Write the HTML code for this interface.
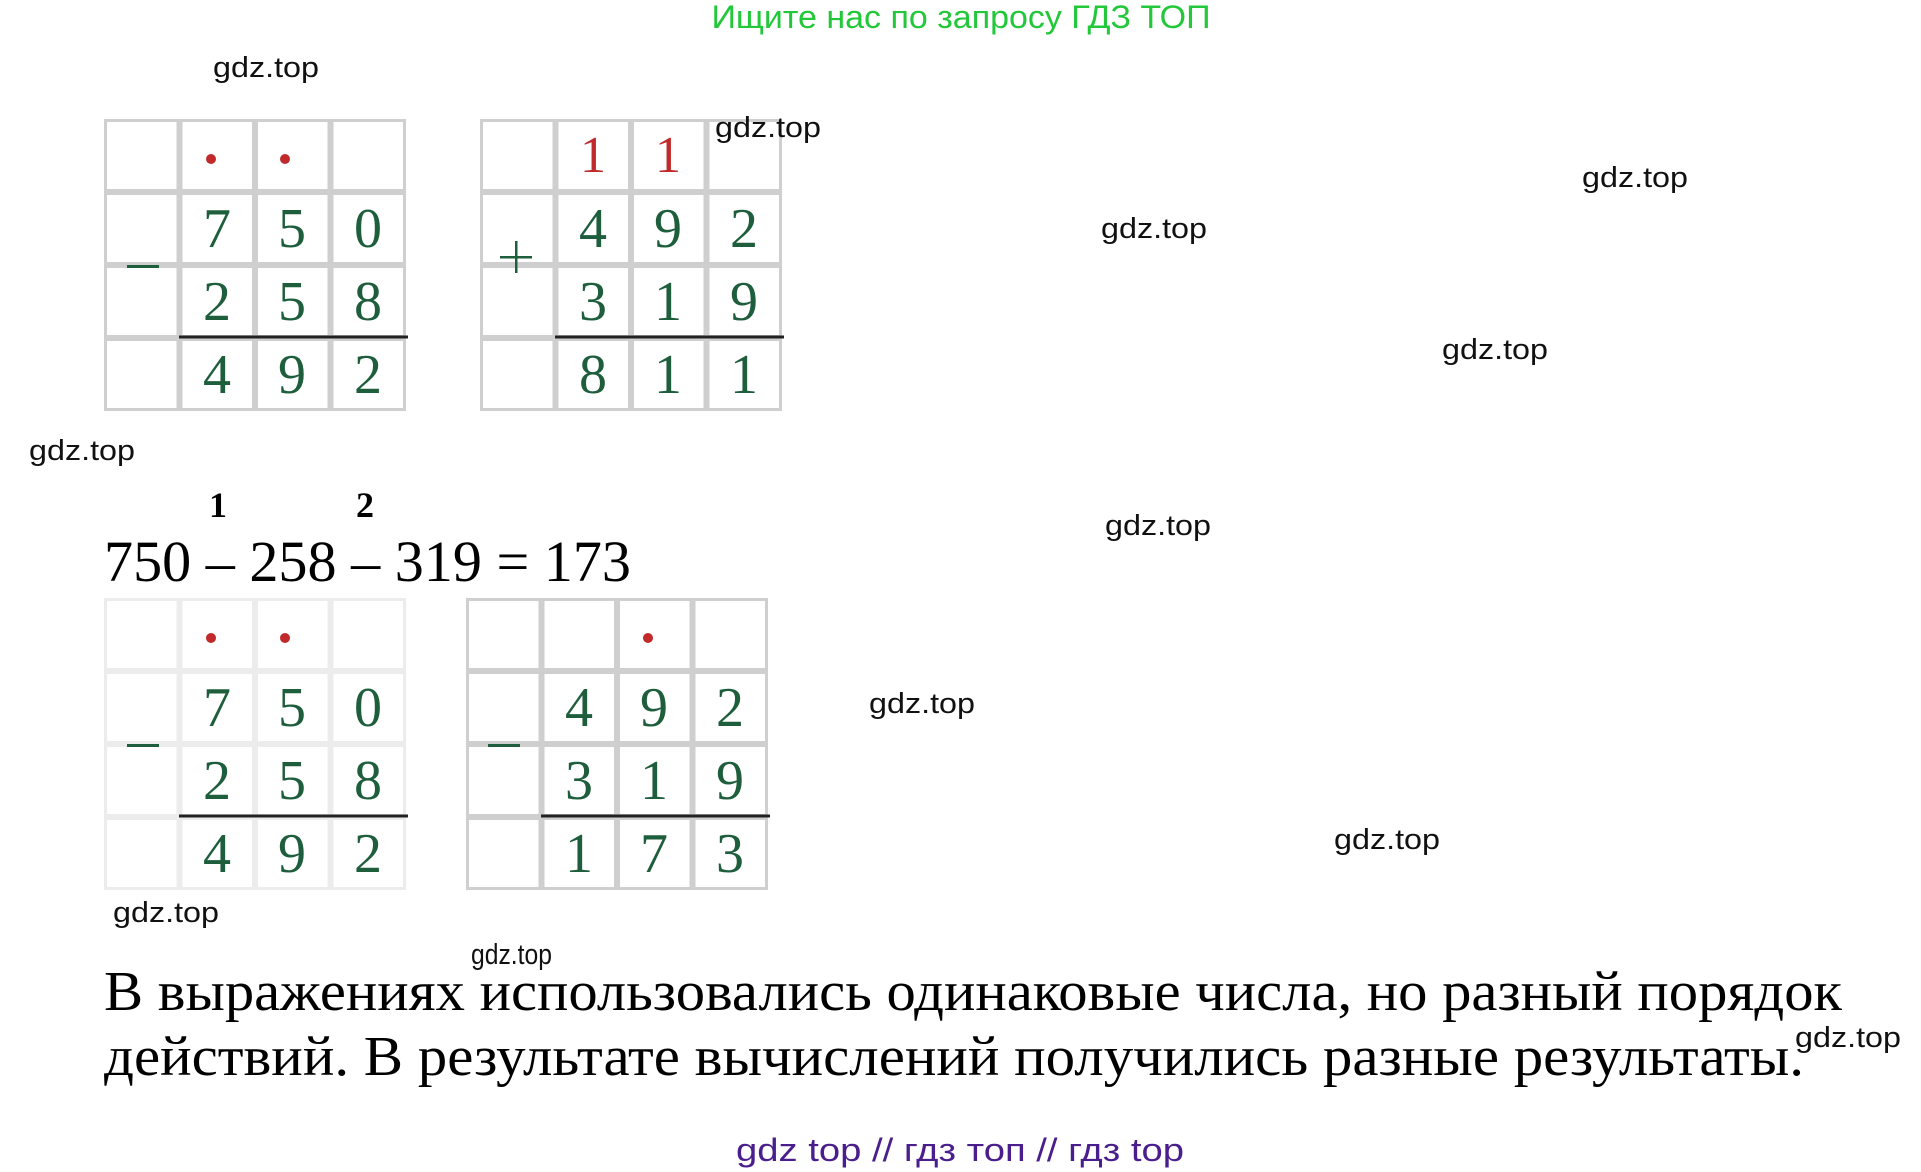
<!DOCTYPE html>
<html><head><meta charset="utf-8"><style>
html,body{margin:0;padding:0;background:#fff;}
svg{display:block;}
.g{font-family:"Liberation Sans",sans-serif;font-size:29px;fill:#111;}
.d{font-family:"Liberation Serif",serif;font-size:56px;fill:#1e5e3c;text-anchor:middle;}
.r{font-family:"Liberation Serif",serif;font-size:52px;fill:#c02a2a;text-anchor:middle;}
.s{font-family:"Liberation Serif","Noto Serif CJK SC",serif;font-size:56px;fill:#000;}
</style></head><body>
<svg width="1921" height="1172" viewBox="0 0 1921 1172" xmlns="http://www.w3.org/2000/svg">
<defs>
<pattern id="cell" x="0" y="0" width="75.5" height="73" patternUnits="userSpaceOnUse">
<rect x="1.5" y="1.5" width="72.5" height="70" fill="#fff" stroke="#cfcfcf" stroke-width="3"/>
</pattern>
<pattern id="cellL" x="0" y="0" width="75.5" height="73" patternUnits="userSpaceOnUse">
<rect x="1.5" y="1.5" width="72.5" height="70" fill="#fff" stroke="#ececec" stroke-width="3"/>
</pattern>
</defs>

<text x="961" y="28" text-anchor="middle" font-family="Liberation Sans, Noto Sans CJK SC, sans-serif" font-size="32" fill="#22c83a" textLength="499" lengthAdjust="spacingAndGlyphs">Ищите нас по запросу ГДЗ ТОП</text>

<!-- Grid 1 -->
<g transform="translate(104,119)">
<rect x="0" y="0" width="302" height="292" fill="url(#cell)"/>
<circle cx="107" cy="40" r="5" fill="#c02a2a"/><circle cx="181" cy="40" r="5" fill="#c02a2a"/>
<text class="d" x="113" y="128">7</text><text class="d" x="188" y="128">5</text><text class="d" x="264" y="128">0</text>
<text class="d" x="113" y="201">2</text><text class="d" x="188" y="201">5</text><text class="d" x="264" y="201">8</text>
<text class="d" x="113" y="274">4</text><text class="d" x="188" y="274">9</text><text class="d" x="264" y="274">2</text>
<line x1="75" y1="218" x2="304" y2="218" stroke="#222" stroke-width="3"/>
<rect x="23" y="146" width="32" height="3" fill="#1e5e3c"/>
</g>

<!-- Grid 2 -->
<g transform="translate(480,119)">
<rect x="0" y="0" width="302" height="292" fill="url(#cell)"/>
<text class="r" x="113" y="53">1</text><text class="r" x="188" y="53">1</text>
<text class="d" x="113" y="128">4</text><text class="d" x="188" y="128">9</text><text class="d" x="264" y="128">2</text>
<text class="d" x="113" y="201">3</text><text class="d" x="188" y="201">1</text><text class="d" x="264" y="201">9</text>
<text class="d" x="113" y="274">8</text><text class="d" x="188" y="274">1</text><text class="d" x="264" y="274">1</text>
<line x1="75" y1="218" x2="304" y2="218" stroke="#222" stroke-width="3"/>
<rect x="20" y="137" width="32" height="2.5" fill="#1e5e3c"/><rect x="35" y="122" width="2.5" height="32" fill="#1e5e3c"/>
</g>

<text class="g" x="213" y="77" textLength="106" lengthAdjust="spacingAndGlyphs">gdz.top</text>
<text class="g" x="715" y="137" textLength="106" lengthAdjust="spacingAndGlyphs">gdz.top</text>
<text class="g" x="1582" y="187" textLength="106" lengthAdjust="spacingAndGlyphs">gdz.top</text>
<text class="g" x="1101" y="238" textLength="106" lengthAdjust="spacingAndGlyphs">gdz.top</text>
<text class="g" x="1442" y="359" textLength="106" lengthAdjust="spacingAndGlyphs">gdz.top</text>
<text class="g" x="29" y="460" textLength="106" lengthAdjust="spacingAndGlyphs">gdz.top</text>
<text class="g" x="1105" y="535" textLength="106" lengthAdjust="spacingAndGlyphs">gdz.top</text>
<text class="g" x="869" y="713" textLength="106" lengthAdjust="spacingAndGlyphs">gdz.top</text>
<text class="g" x="1334" y="849" textLength="106" lengthAdjust="spacingAndGlyphs">gdz.top</text>
<text class="g" x="113" y="922" textLength="106" lengthAdjust="spacingAndGlyphs">gdz.top</text>
<text class="g" x="1795" y="1047" textLength="106" lengthAdjust="spacingAndGlyphs">gdz.top</text>
<text class="g" x="471" y="964" font-size="22" textLength="81" lengthAdjust="spacingAndGlyphs">gdz.top</text>

<text x="218" y="517" text-anchor="middle" font-family="Liberation Serif, serif" font-weight="bold" font-size="36">1</text>
<text x="365" y="517" text-anchor="middle" font-family="Liberation Serif, serif" font-weight="bold" font-size="36">2</text>
<text x="104" y="581" font-family="Liberation Serif, serif" font-size="58" textLength="527" lengthAdjust="spacingAndGlyphs">750 – 258 – 319 = 173</text>

<!-- Grid 3 -->
<g transform="translate(104,598)">
<rect x="0" y="0" width="302" height="292" fill="url(#cellL)"/>
<circle cx="107" cy="40" r="5" fill="#c02a2a"/><circle cx="181" cy="40" r="5" fill="#c02a2a"/>
<text class="d" x="113" y="128">7</text><text class="d" x="188" y="128">5</text><text class="d" x="264" y="128">0</text>
<text class="d" x="113" y="201">2</text><text class="d" x="188" y="201">5</text><text class="d" x="264" y="201">8</text>
<text class="d" x="113" y="274">4</text><text class="d" x="188" y="274">9</text><text class="d" x="264" y="274">2</text>
<line x1="75" y1="218" x2="304" y2="218" stroke="#222" stroke-width="3"/>
<rect x="23" y="146" width="32" height="3" fill="#1e5e3c"/>
</g>

<!-- Grid 4 -->
<g transform="translate(466,598)">
<rect x="0" y="0" width="302" height="292" fill="url(#cell)"/>
<circle cx="182" cy="40" r="5" fill="#c02a2a"/>
<text class="d" x="113" y="128">4</text><text class="d" x="188" y="128">9</text><text class="d" x="264" y="128">2</text>
<text class="d" x="113" y="201">3</text><text class="d" x="188" y="201">1</text><text class="d" x="264" y="201">9</text>
<text class="d" x="113" y="274">1</text><text class="d" x="188" y="274">7</text><text class="d" x="264" y="274">3</text>
<line x1="75" y1="218" x2="304" y2="218" stroke="#222" stroke-width="3"/>
<rect x="22" y="146" width="32" height="3" fill="#1e5e3c"/>
</g>

<text class="s" x="104" y="1010" textLength="1738" lengthAdjust="spacingAndGlyphs">В выражениях использовались одинаковые числа, но разный порядок</text>
<text class="s" x="104" y="1075" textLength="1700" lengthAdjust="spacingAndGlyphs">действий. В результате вычислений получились разные результаты.</text>

<text x="960" y="1161" text-anchor="middle" font-family="Liberation Sans, Noto Sans CJK SC, sans-serif" font-size="32" fill="#4a1e8c" textLength="448" lengthAdjust="spacingAndGlyphs">gdz top  //  гдз топ  //  гдз top</text>
</svg>
</body></html>
